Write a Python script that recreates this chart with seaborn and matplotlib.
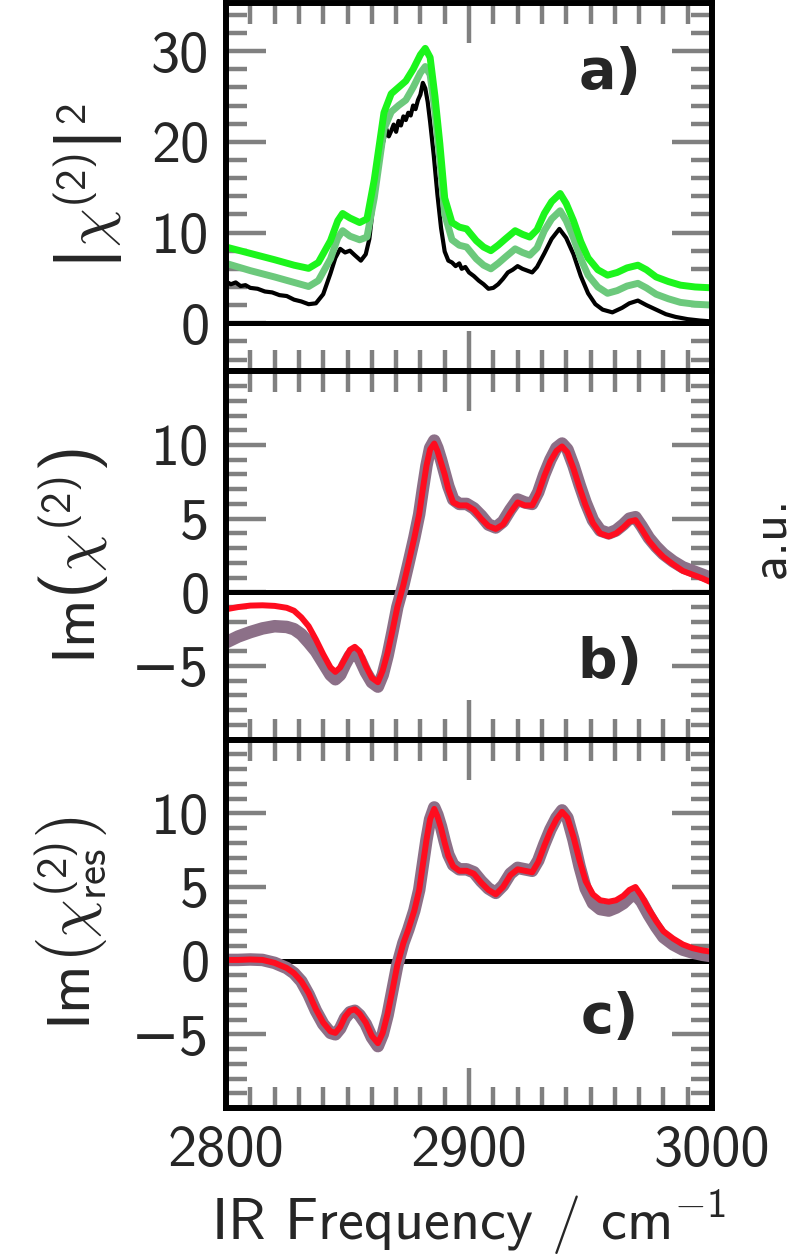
import matplotlib
matplotlib.use("Agg")
import matplotlib.pyplot as plt
from matplotlib.ticker import MultipleLocator, FixedLocator, FuncFormatter
import pandas as pd
import seaborn as sns

# ---- panel a: |chi2|^2 ----
freq_a = [2800, 2810, 2820, 2828, 2834, 2838, 2843, 2846, 2848, 2851, 2855, 2858, 2861, 2863,
          2865, 2868, 2871, 2874, 2877, 2880, 2882, 2884, 2886, 2888, 2890, 2893, 2896, 2899,
          2903, 2906, 2909, 2912, 2915, 2919, 2922, 2925, 2928, 2931, 2934, 2937.5, 2940, 2943,
          2946, 2949, 2953, 2957, 2961, 2965, 2969.5, 2973, 2977, 2982, 2987, 2993, 3000]
fit_bright = [8.4, 7.7, 7.0, 6.4, 6.05, 6.7, 9.1, 11.3, 12.1, 11.6, 11.1, 11.5, 15.8, 19.5,
              23.2, 25.3, 26.0, 26.7, 28.0, 29.6, 30.3, 29.3, 25.0, 19.8, 13.8, 11.1, 10.6, 10.4,
              9.1, 8.4, 8.0, 8.6, 9.3, 10.2, 9.8, 9.5, 10.3, 12.1, 13.4, 14.3, 13.2, 11.3,
              9.0, 7.2, 5.9, 5.3, 5.6, 6.1, 6.4, 5.9, 5.1, 4.6, 4.2, 4.0, 3.9]
fit_mid = [6.6, 5.8, 5.1, 4.5, 4.05, 4.7, 7.1, 9.4, 10.2, 9.6, 9.2, 9.5, 13.8, 17.6,
           21.4, 23.3, 24.0, 24.6, 26.0, 27.6, 28.3, 27.4, 23.3, 18.0, 12.0, 9.2, 8.6, 8.4,
           7.1, 6.4, 6.0, 6.6, 7.3, 8.2, 7.8, 7.5, 8.3, 10.2, 11.5, 12.4, 11.3, 9.4,
           7.1, 5.3, 4.0, 3.3, 3.6, 4.1, 4.4, 3.9, 3.2, 2.7, 2.3, 2.1, 2.0]

freq_meas = [2800, 2802, 2804, 2806, 2808, 2810, 2813, 2816, 2819, 2822, 2825, 2828, 2831, 2834,
             2837, 2840, 2843, 2845, 2847, 2849, 2851, 2853, 2855.5, 2857.5, 2859, 2861, 2863,
             2864.5, 2866, 2867, 2868, 2869, 2870, 2871, 2872, 2873, 2874, 2875, 2876, 2877,
             2878, 2879, 2880, 2881, 2882, 2883, 2884, 2885.5, 2887, 2888.5, 2890, 2891.5, 2893,
             2894.5, 2896, 2897, 2898.5, 2900, 2902, 2904, 2906, 2908, 2910, 2912, 2914, 2916,
             2918, 2920, 2922, 2924, 2926, 2928, 2931, 2934, 2937.2, 2940, 2943, 2946, 2949,
             2952, 2955, 2959, 2963, 2966, 2969.5, 2973, 2977, 2981, 2985, 2990, 2995, 3000]
meas = [4.6, 4.3, 4.5, 4.1, 4.2, 3.9, 3.8, 3.5, 3.4, 3.1, 3.0, 2.6, 2.4, 2.1,
        2.2, 3.2, 5.5, 7.2, 8.2, 7.8, 8.0, 7.5, 6.9, 7.6, 9.3, 14.0, 17.5,
        19.8, 21.4, 20.6, 21.2, 21.9, 21.1, 22.3, 21.8, 22.8, 22.4, 23.2, 22.9, 24.0,
        23.6, 24.6, 25.2, 26.5, 25.9, 24.4, 22.2, 18.5, 14.2, 10.5, 7.9, 6.9, 6.7,
        6.3, 6.6, 6.0, 6.2, 5.6, 5.2, 4.7, 4.3, 3.8, 3.9, 4.3, 4.9, 5.6,
        5.9, 6.3, 6.0, 5.8, 5.6, 6.2, 7.7, 9.3, 10.4, 9.4, 7.6, 5.2, 3.3,
        2.1, 1.5, 1.2, 1.7, 2.2, 2.5, 2.0, 1.5, 1.0, 0.7, 0.45, 0.3, 0.2]

# ---- panels b and c: Im chi2 ----
freq_im = [2800, 2805, 2810, 2815, 2820, 2825, 2828, 2831, 2834, 2837, 2840, 2843, 2845, 2847,
           2849, 2851, 2853, 2855, 2857.5, 2860, 2862.5, 2864.5, 2866.5, 2868.5, 2870.5, 2873,
           2875, 2877.5, 2879.5, 2881, 2882.5, 2884, 2885.7, 2887, 2888.5, 2890, 2891.5, 2893.5,
           2896, 2899, 2902, 2905, 2908, 2911, 2914, 2917, 2920, 2923, 2926, 2928.5, 2931,
           2933.5, 2936, 2938.3, 2940.5, 2943, 2945.5, 2948, 2951, 2954, 2957.5, 2960.5, 2963.5,
           2966, 2968.5, 2971, 2974, 2977, 2980, 2984, 2988, 2992, 2996, 3000]
im_b_red = [-1.15, -1.0, -0.9, -0.88, -0.92, -1.05, -1.25, -1.7, -2.3, -3.2, -4.2, -5.1, -5.4, -5.1,
            -4.5, -3.9, -3.7, -4.0, -5.0, -5.8, -6.1, -5.3, -4.1, -2.6, -1.0, 0.5,
            1.9, 3.7, 5.3, 7.0, 8.6, 9.7, 10.1, 9.6, 8.8, 8.0, 7.0, 6.1,
            5.9, 5.9, 5.6, 5.0, 4.5, 4.3, 4.6, 5.4, 6.1, 5.9, 5.9, 6.7, 7.9,
            8.9, 9.6, 9.9, 9.5, 8.4, 7.1, 5.9, 4.7, 4.0, 3.8, 4.0, 4.4,
            4.8, 4.9, 4.3, 3.5, 2.9, 2.4, 1.9, 1.45, 1.2, 0.95, 0.65]
im_b_grey = [-3.4, -3.0, -2.7, -2.45, -2.3, -2.35, -2.5, -2.85, -3.4, -4.0, -4.8, -5.6, -5.9, -5.6,
             -4.9, -4.3, -4.2, -4.5, -5.4, -6.1, -6.4, -5.6, -4.3, -2.7, -1.0, 0.5,
             1.9, 3.7, 5.3, 7.0, 8.6, 9.8, 10.3, 9.8, 9.0, 8.1, 7.2, 6.3,
             6.0, 6.0, 5.7, 5.2, 4.6, 4.4, 4.8, 5.6, 6.3, 6.1, 6.0, 6.8, 8.0,
             9.0, 9.8, 10.1, 9.7, 8.6, 7.3, 6.1, 4.9, 4.2, 4.0, 4.2, 4.6,
             5.0, 5.1, 4.5, 3.7, 3.1, 2.6, 2.1, 1.7, 1.45, 1.2, 0.95]
im_c_red = [0.05, 0.05, 0.08, 0.05, -0.15, -0.5, -0.85, -1.4, -2.2, -3.3, -4.2, -4.8, -4.9, -4.5,
            -3.8, -3.4, -3.3, -3.6, -4.2, -5.1, -5.6, -4.9, -3.6, -2.0, -0.3, 1.2,
            2.1, 3.4, 4.8, 6.5, 8.2, 9.6, 10.3, 9.8, 9.0, 8.0, 7.1, 6.4,
            6.1, 6.1, 5.9, 5.3, 4.8, 4.5, 5.0, 5.8, 6.2, 6.1, 6.0, 6.7, 7.8,
            8.8, 9.6, 10.1, 9.7, 8.4, 6.8, 5.4, 4.5, 4.1, 4.0, 4.1, 4.4,
            4.8, 5.0, 4.4, 3.5, 2.7, 2.0, 1.5, 1.1, 0.85, 0.7, 0.6]
im_c_grey = [0.05, 0.05, 0.08, 0.05, -0.15, -0.5, -0.85, -1.4, -2.3, -3.4, -4.3, -4.9, -5.0, -4.6,
             -3.9, -3.5, -3.4, -3.7, -4.3, -5.2, -5.8, -5.0, -3.7, -2.0, -0.3, 1.2,
             2.1, 3.4, 4.8, 6.5, 8.2, 9.6, 10.4, 9.9, 9.1, 8.1, 7.2, 6.5,
             6.2, 6.2, 6.0, 5.4, 4.9, 4.6, 5.1, 5.9, 6.3, 6.2, 6.1, 6.8, 7.9,
             8.9, 9.7, 10.2, 9.7, 8.2, 6.4, 4.9, 3.9, 3.5, 3.4, 3.6, 3.9,
             4.3, 4.5, 4.0, 3.1, 2.3, 1.6, 1.1, 0.75, 0.55, 0.4, 0.3]

# the bars come from the tt font (cmss10 has an em dash in the '|' slot)
ylabels = [r'$\mathtt{\left|\mathit{\chi}^{\mathrm{(2)}}\right|}^{2}$',
           r'$\mathrm{Im}\left(\chi^{(2)}\right)$',
           r'$\mathrm{Im}\left(\chi^{(2)}_{\mathrm{res}}\right)$']
panel_tags = ['a)', 'b)', 'c)']
ticks_a = [0, 10, 20, 30]
ticks_im = [-5, 0, 5, 10]
ticks_x = [2800, 2900, 3000]

sns.set_style("ticks")
plt.rcParams['font.family'] = ['cmss10', 'DejaVu Sans']
plt.rcParams['mathtext.fontset'] = 'custom'
plt.rcParams['mathtext.rm'] = 'cmss10'
plt.rcParams['mathtext.sf'] = 'cmss10'
plt.rcParams['mathtext.it'] = 'cmmi10'
plt.rcParams['mathtext.bf'] = 'cmss10'
plt.rcParams['mathtext.tt'] = 'DejaVu Sans'
plt.rcParams['mathtext.fallback'] = 'cm'
plt.rcParams['axes.unicode_minus'] = False

GREEN = '#1cf51c'
MIDGREEN = '#6cc97c'
RED = '#ff0d1f'
GREY = '#8c7088'
TICKGREY = '#808080'


def tick_fmt(v, pos):
    v = int(round(v))
    if v < 0:
        return '\u2212%d' % (-v)
    return '%d' % v


fig = plt.figure(figsize=(7.92, 12.54), dpi=100)
axes = fig.subplots(3, 1, sharex=True)
fig.subplots_adjust(left=226/792, right=712/792, top=1-3/1254, bottom=1-1108/1254, hspace=0)

ax = axes[0]
sns.lineplot(x=freq_meas, y=meas, ax=ax, color='black', lw=3.0, estimator=None, sort=False)
sns.lineplot(x=freq_a, y=fit_mid, ax=ax, color=MIDGREEN, lw=5, estimator=None, sort=False)
sns.lineplot(x=freq_a, y=fit_bright, ax=ax, color=GREEN, lw=5, estimator=None, sort=False)
ax.set_ylim(-5.3, 35.3)
ax.yaxis.set_major_locator(FixedLocator(ticks_a))
ax.yaxis.set_minor_locator(MultipleLocator(2))

for ax, red, grey in [(axes[1], im_b_red, im_b_grey), (axes[2], im_c_red, im_c_grey)]:
    sns.lineplot(x=freq_im, y=grey, ax=ax, color=GREY, lw=9, estimator=None, sort=False)
    sns.lineplot(x=freq_im, y=red, ax=ax, color=RED, lw=4.3, estimator=None, sort=False)
    ax.set_ylim(-10, 15)
    ax.yaxis.set_major_locator(FixedLocator(ticks_im))
    ax.yaxis.set_minor_locator(MultipleLocator(1))

label_x = [-0.208, -0.239, -0.239]
label_size = [44, 44, 44]
tag_y = [0.81, 0.207, 0.245]
for i, ax in enumerate(axes):
    ax.axhline(0, color='black', lw=3.6, zorder=1.5)
    ax.set_xlim(2800, 3000)
    ax.xaxis.set_major_locator(FixedLocator(ticks_x))
    ax.xaxis.set_minor_locator(MultipleLocator(10))
    ax.yaxis.set_major_formatter(FuncFormatter(tick_fmt))
    ax.xaxis.set_major_formatter(FuncFormatter(tick_fmt))
    ax.tick_params(which='both', direction='in', top=True, right=True,
                   color=TICKGREY, width=3.2, labelsize=42, pad=12)
    ax.tick_params(which='major', length=29)
    ax.tick_params(which='minor', length=15)
    for sp in ax.spines.values():
        sp.set_linewidth(4.3)
        sp.set_color('black')
        sp.set_zorder(5)
    ax.set_ylabel(ylabels[i], fontsize=label_size[i])
    ax.yaxis.set_label_coords(label_x[i], 0.5)
    ax.text(0.79, tag_y[i], panel_tags[i], transform=ax.transAxes, ha='center', va='center',
            fontsize=40, fontweight='bold', family='DejaVu Sans')

axes[0].tick_params(axis='x', labelbottom=False)
axes[1].tick_params(axis='x', labelbottom=False)
axes[2].set_xlabel(r'IR Frequency / cm$^{-1}$', fontsize=42, labelpad=8)
axes[1].text(1.075, 0.549, 'a.u.', rotation=90, ha='left', va='center', fontsize=38,
             transform=axes[1].transAxes)

fig.savefig('out.png', dpi=100)
